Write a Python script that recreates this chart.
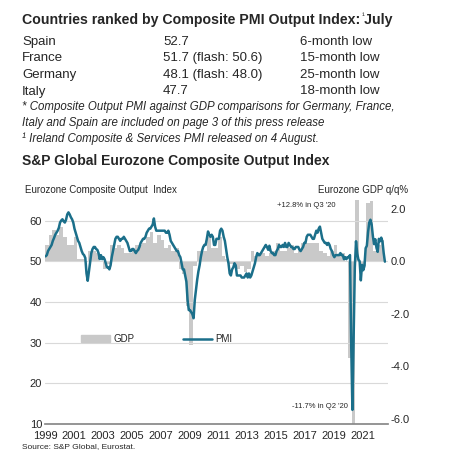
import numpy as np, pandas as pd, seaborn as sns, matplotlib
matplotlib.use("Agg")
import matplotlib.pyplot as plt
from matplotlib.patches import Patch
from matplotlib.lines import Line2D

countries = ["Spain", "France", "Germany", "Italy"]
pmi_vals = ["52.7", "51.7 (flash: 50.6)", "48.1 (flash: 48.0)", "47.7"]
remarks = ["6-month low", "15-month low", "25-month low", "18-month low"]

gdp = [0.6,1.0,1.2,1.0, 1.3,0.9,0.6,0.6, 0.9,0.1,0.1,0.0, 0.4,0.4,0.3,0.0,
       -0.3,-0.1,0.6,0.5, 0.6,0.5,0.3,0.3, 0.4,0.6,0.6,0.7, 0.9,1.1,0.7,1.0,
       0.8,0.5,0.6,0.4, 0.5,-0.3,-0.5,-1.7, -3.2,-0.2,0.4,0.4, 0.4,0.9,0.5,0.5,
       0.9,0.2,0.1,-0.1, -0.1,-0.3,-0.2,-0.4, -0.3,0.4,0.2,0.3, 0.3,0.2,0.3,0.4,
       0.7,0.4,0.4,0.5, 0.6,0.3,0.4,0.7, 0.7,0.7,0.7,0.7, 0.4,0.3,0.2,0.4,
       0.6,0.2,0.3,0.0, -3.7,-11.7,12.8,-0.1, -0.2,2.2,2.3,0.4, 0.6,0.8]

pmi = [51.2,51.5,52.5,53.0,53.5,54.0,55.0,55.7,56.5,57.0,57.5,58.2,
 59.5,60.0,60.3,59.8,59.5,60.2,61.5,62.0,61.5,60.8,60.3,59.5,
 58.0,57.0,56.0,55.0,54.5,53.5,52.5,51.8,51.5,50.8,47.0,45.2,
 47.5,50.0,52.0,53.0,53.5,53.5,53.0,52.8,52.0,50.5,51.5,50.5,
 51.0,50.5,49.5,48.5,48.5,48.0,49.0,51.0,52.5,54.0,55.5,56.0,
 56.0,55.5,55.0,55.5,55.5,56.0,55.5,55.0,54.5,53.5,52.5,52.5,
 53.0,53.0,52.5,52.0,52.5,52.8,53.5,54.5,55.0,55.5,55.5,56.0,
 57.0,57.5,58.0,58.0,58.5,59.0,60.5,58.5,57.5,57.5,57.5,57.5,
 57.5,57.5,57.5,57.5,57.0,57.0,57.5,56.5,55.0,54.5,54.0,53.5,
 53.0,52.5,52.5,51.5,51.0,49.5,48.0,48.0,46.5,45.0,40.5,38.0,
 38.0,37.5,37.0,36.0,40.5,43.0,45.5,47.5,49.0,51.0,52.5,53.5,
 54.0,54.0,55.5,57.3,56.5,56.0,56.5,56.0,54.0,54.0,55.5,55.5,
 55.5,57.5,58.0,57.5,56.0,55.0,53.0,51.0,49.5,47.0,46.5,48.0,
 48.5,49.5,49.0,46.5,46.5,46.5,46.5,46.0,46.0,46.0,46.5,47.0,
 46.0,47.0,46.0,46.5,47.5,48.5,49.5,51.0,52.0,51.5,51.5,52.0,
 52.5,53.0,53.5,54.0,53.5,52.8,53.8,52.5,52.0,52.0,51.5,51.5,
 52.5,53.0,54.0,53.5,53.5,54.0,53.5,54.5,53.5,53.5,54.5,54.0,
 53.5,53.5,53.0,53.0,53.5,53.5,53.5,52.8,52.5,53.0,53.5,54.5,
 54.5,56.0,56.5,56.5,56.5,56.0,55.5,55.5,56.5,57.5,57.0,58.0,
 58.5,57.0,55.5,55.0,54.5,54.5,54.0,54.5,54.0,53.0,52.5,51.5,
 51.0,51.5,51.5,51.5,51.5,52.0,51.5,51.5,50.5,51.0,50.5,51.0,
 51.0,51.5,29.5,13.5,31.0,48.5,54.9,51.9,50.4,50.0,45.3,49.1,
 47.8,48.8,53.2,53.8,57.1,59.5,60.2,59.0,56.2,54.2,55.4,53.3,
 52.3,55.5,54.9,55.8,54.8,52.0,49.9]

qx = 1999 + (np.arange(len(gdp)) + 0.5) / 4
mx = 1999 + (np.arange(len(pmi)) + 0.5) / 12
teal = "#1b6f8a"; grey = "#c9c9c9"

sns.set_theme(style="white")
plt.rcParams['font.family'] = ['Liberation Sans', 'DejaVu Sans']
fig = plt.figure(figsize=(4.5, 4.58), dpi=100)

def T(x, y, s, **k):
    fig.text(x/450, 1 - y/458, s, va="center", **k)

T(22, 20, "Countries ranked by Composite PMI Output Index: July", fontsize=10.2, fontweight="bold")
T(362, 16, "¹", fontsize=6)
for i, (c, v, r) in enumerate(zip(countries, pmi_vals, remarks)):
    y = 42 + i*16.5
    T(22, y, c, fontsize=9.5); T(163, y, v, fontsize=9.5); T(300, y, r, fontsize=9.5)
T(22, 107, "* Composite Output PMI against GDP comparisons for Germany, France,", fontsize=8.3, style="italic")
T(22, 123, "Italy and Spain are included on page 3 of this press release", fontsize=8.3, style="italic")
T(22, 139, "¹ Ireland Composite & Services PMI released on 4 August.", fontsize=8.3, style="italic")
T(22, 161, "S&P Global Eurozone Composite Output Index", fontsize=10, fontweight="bold")
T(25, 190, "Eurozone Composite Output  Index", fontsize=7)
T(318, 190, "Eurozone GDP q/q%", fontsize=7)
T(22, 447, "Source: S&P Global, Eurostat.", fontsize=6)

ax = fig.add_axes([0.1, 0.074, 0.762, 0.489])
ax2 = ax.twinx()
ax2.set_zorder(0); ax.set_zorder(1); ax.patch.set_visible(False)
ax2.bar(qx, gdp, width=0.25, color=grey, linewidth=0)
sns.lineplot(x=mx, y=pmi, ax=ax, color=teal, linewidth=1.8)
ax.set_ylim(10, 65); ax2.set_ylim(-6.2, 2.32)
ax.set_xlim(1999, 2022.75)
ax.set_yticks([10, 20, 30, 40, 50, 60])
ax2.set_yticks([-6, -4, -2, 0, 2])
ax2.set_yticklabels(["-6.0", "-4.0", "-2.0", "0.0", "2.0"])
ax.set_xticks(np.arange(1999, 2023, 2))
ax.set_xticks(np.arange(1999, 2023, 1), minor=True)
ax.grid(axis="y", color="#d9d9d9", linewidth=0.8)
for a in (ax, ax2):
    for s in a.spines.values(): s.set_visible(False)
    a.tick_params(labelsize=8, pad=2, length=0)
ax.spines["bottom"].set_visible(True); ax.spines["bottom"].set_color("#888888")
ax.tick_params(axis="x", which="both", length=3, color="#888888", direction="out")
ax.text(2019.1, 63.2, "+12.8% in Q3 '20", fontsize=5.5, ha="right")
ax.text(2020.0, 14.0, "-11.7% in Q2 '20", fontsize=5.5, ha="right")
h = [Patch(color=grey), Line2D([], [], color=teal, lw=1.8)]
ax.legend(h, ["GDP", "PMI"], loc="center left", bbox_to_anchor=(0.08, 0.38), ncol=2,
          frameon=False, fontsize=7, handlelength=3, columnspacing=5, handletextpad=0.3)
fig.savefig("out.png", dpi=100)
